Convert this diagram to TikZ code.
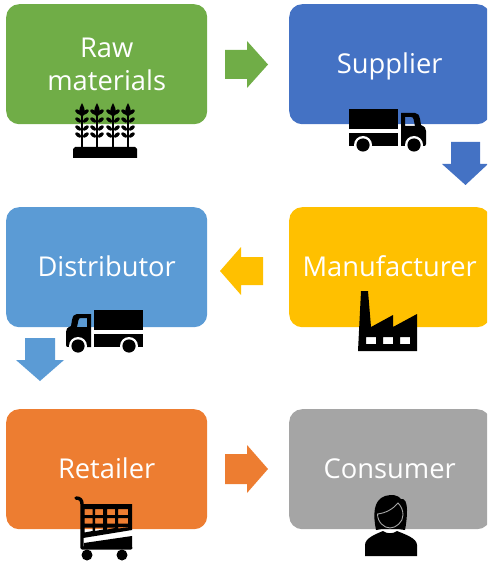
\documentclass[tikz,border=0pt]{standalone}
\usepackage{fontspec}
\setmainfont{Open Sans}
\definecolor{cgreen}{HTML}{70AD47}
\definecolor{cblue}{HTML}{4472C4}
\definecolor{clight}{HTML}{5B9BD5}
\definecolor{cgold}{HTML}{FFC000}
\definecolor{corange}{HTML}{ED7D31}
\definecolor{cgray}{HTML}{A5A5A5}
\newcommand{\zstrut}{\rule[-8pt]{0pt}{34pt}}
\tikzset{
  stagebox/.style={rounded corners=13pt,minimum width=201pt,minimum height=120pt,inner sep=0pt,
    text=white,font=\fontsize{27.3}{33}\selectfont,align=center,anchor=north west},
  wheatear/.pic={
    \fill[black] (0,0) .. controls (-1.5,3) and (-3,6) .. (-3,9) .. controls (-3,11) and (-1.5,13) .. (0,14) .. controls (1.5,13) and (3,11) .. (3,9) .. controls (3,6) and (1.5,3) .. (0,0) -- cycle;
    \foreach \y in {9,17,25,32}{
      \fill[black,rotate around={-40:(-3.8,\y)}] (-3.8,\y) ellipse (3.5 and 1.9);
      \fill[black,rotate around={40:(3.8,\y)}] (3.8,\y) ellipse (3.5 and 1.9);
    }
    \fill[black] (-1,6) rectangle (1,44);
  },
  truckicon/.pic={
    \fill[black] (0,0) rectangle (49,20);
    \fill[black] (0,24) rectangle (49,37);
    \fill[black,even odd rule] (52,4) -- (66,4) .. controls (69,4) and (70,6) .. (71,10) -- (72,16) .. controls (76,18) and (77,19) .. (77,22) -- (77,35) .. controls (77,37) and (76,37) .. (74,37) -- (52,37) -- cycle
      (56,8) -- (56,17) -- (66,17) -- (64.5,10) .. controls (64,8.5) and (63.5,8) .. (62,8) -- cycle;
    \fill[white] (14,36) circle (9);
    \fill[white] (65,36) circle (9);
    \fill[black] (14,36) circle (6.6);
    \fill[black] (65,36) circle (6.6);
  }
}
\begin{document}
\begin{tikzpicture}[x=1pt,y=-1pt]
\useasboundingbox (0,0) rectangle (487,561);
\clip (0,0) rectangle (487,561);
% boxes
\node[stagebox,fill=cgreen] (raw) at (6,4) {Raw\\materials};
\node[stagebox,fill=cblue] (sup) at (289,4) {\zstrut Supplier};
\node[stagebox,fill=clight] (dis) at (6,207) {\zstrut Distributor};
\node[stagebox,fill=cgold] (man) at (289,207) {\zstrut Manufacturer};
\node[stagebox,fill=corange] (ret) at (6,409) {\zstrut Retailer};
\node[stagebox,fill=cgray] (con) at (289,409) {\zstrut Consumer};
% block arrows
\fill[cgreen] (225,50) -- (247,50) -- (247,41) -- (268,64.5) -- (247,88) -- (247,79) -- (225,79) -- cycle;
\fill[cblue] (451,142) -- (480,142) -- (480,164) -- (488,164) -- (465.5,185) -- (442,164) -- (451,164) -- cycle;
\fill[cgold] (263,257) -- (241,257) -- (241,247) -- (220,271) -- (241,295) -- (241,285) -- (263,285) -- cycle;
\fill[clight] (25,338) -- (55,338) -- (55,360) -- (64,360) -- (40,381) -- (16,360) -- (25,360) -- cycle;
\fill[corange] (225,454) -- (247,454) -- (247,445) -- (268,469) -- (247,493) -- (247,484) -- (225,484) -- cycle;
% wheat
\foreach \x in {82,97,113,128}{ \pic at (\x,103) {wheatear}; }
\fill[black] (75,147) -- (135,147) -- (137,149) -- (137,158) -- (73,158) -- (73,149) -- cycle;
% trucks
\pic at (349,109) {truckicon};
\pic[xscale=-1] at (143,310) {truckicon};
% factory
\fill[black,even odd rule] (361,291) -- (368,291) -- (371,327) -- (393,315) -- (393,327) -- (417,314) -- (417,351) -- (358,351) -- cycle
  (366,337) rectangle (376,344) (383,337) rectangle (393,344) (400,337) rectangle (410,344);
% cart
\draw[black,line width=3.4pt,line cap=round,line join=round] (76,498) .. controls (80,498) and (82,500) .. (82,504) -- (82,548) -- (131,548);
\fill[black,even odd rule] (82,504) -- (132,504) -- (132,530) -- (83,538) -- cycle
  (84.5,509) rectangle (92.5,515) (95,509) rectangle (103,515) (107,509) rectangle (115,515) (118,509) rectangle (128,515)
  (84.5,518) rectangle (92.5,523.5) (95,518) rectangle (103,523.5) (107,518) rectangle (115,523.5) (118,518) rectangle (128,523.5)
  (84.5,527.5) -- (92.5,527.5) -- (92.5,531) -- (84.5,532.5) -- cycle
  (95,527.5) -- (103,527.5) -- (103,529.5) -- (95,531) -- cycle
  (107,527.5) -- (115,527.5) -- (115,528) -- (107,529.5) -- cycle
  (118,527) -- (128,527) -- (128,527.5) -- (118,528.5) -- cycle;
\fill[black] (84,543) -- (132,536) -- (132,548) -- (84,548) -- cycle;
\fill[black] (87,555) circle (5.5);
\fill[black] (122,555) circle (5.5);
% consumer
\fill[black] (376,530) .. controls (373,515) and (373,500) .. (385,496) .. controls (392,494) and (398,495) .. (401,499) .. controls (405,498) and (407,503) .. (407,510) .. controls (407,518) and (406,525) .. (405,530) -- (398,529) -- (382,529) -- cycle;
\draw[cgray,line width=0.9pt,fill=black] (377.5,514) .. controls (386,513) and (393,509) .. (398,503) .. controls (401,506) and (403,510) .. (403,515) .. controls (403,522) and (396,528) .. (390,528) .. controls (384,528) and (377.5,522) .. (377.5,514) -- cycle;
\fill[black] (365,556) -- (365,545) .. controls (365,538) and (376,534) .. (383,531) .. controls (387,534) and (393,534) .. (397,531) .. controls (404,534) and (417,538) .. (417,545) -- (417,556) -- cycle;
\end{tikzpicture}
\end{document}
